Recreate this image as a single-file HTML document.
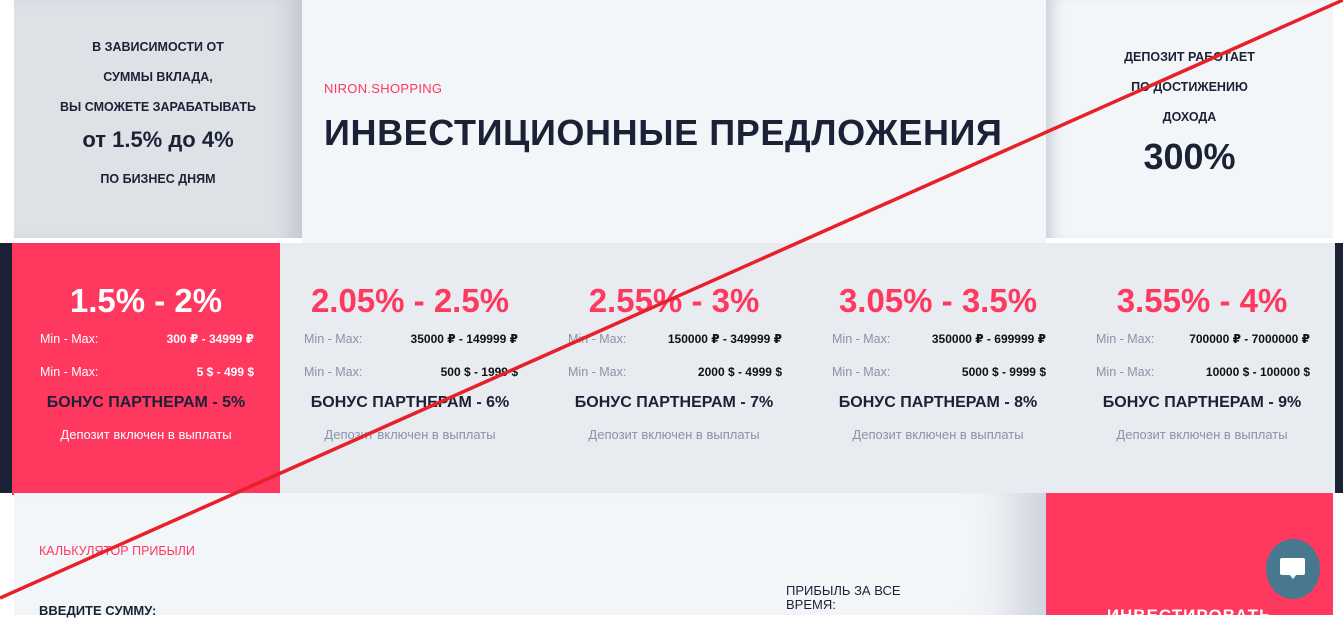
<!DOCTYPE html>
<html><head><meta charset="utf-8"><style>
*{margin:0;padding:0;box-sizing:border-box}
body{width:1343px;height:615px;overflow:hidden;background:#fff;font-family:"Liberation Sans","DejaVu Sans",sans-serif;color:#1b2236;position:relative}
.a{position:absolute}
.c{text-align:center}
.card{position:absolute;top:243px;height:250px;width:264px;text-align:center}
.card .p{position:absolute;top:39px;left:0;width:100%;font-size:33px;font-weight:bold;color:#ff3860}
.card .r{position:absolute;left:26px;width:214px;font-size:12.5px;text-align:left;height:16px}
.card .r span{position:absolute;right:0;top:0;font-weight:bold;color:#111;font-size:12px}
.card .r i{font-style:normal;color:#8a93a8}
.card .b{position:absolute;top:151px;width:100%;font-size:16px;font-weight:bold;color:#1b2236}
.card .d{position:absolute;top:184px;width:100%;font-size:13px;color:#8a93a8}
</style></head><body>
<div class="a" style="left:302px;top:0;width:744px;height:243px;background:#f3f6f9"></div>
<div class="a" style="left:1046px;top:0;width:287px;height:238px;background:#f3f6f9;box-shadow:inset 14px 0 14px -8px #c9ced8"></div>
<div class="a" style="left:14px;top:0;width:288px;height:238px;background:#dee2e7;box-shadow:inset -22px 0 20px -10px #c3c8d1"></div>
<div class="a c" style="left:14px;top:32px;width:288px;font-size:12.5px;font-weight:bold;line-height:30px">В ЗАВИСИМОСТИ ОТ<br>СУММЫ ВКЛАДА,<br>ВЫ СМОЖЕТЕ ЗАРАБАТЫВАТЬ</div>
<div class="a c" style="left:14px;top:127px;width:288px;font-size:22px;font-weight:bold">от 1.5% до 4%</div>
<div class="a c" style="left:14px;top:172px;width:288px;font-size:12.5px;font-weight:bold">ПО БИЗНЕС ДНЯМ</div>
<div class="a" style="left:324px;top:81px;font-size:13px;color:#ff3860;letter-spacing:.3px">NIRON.SHOPPING</div>
<div class="a" style="left:324px;top:112px;font-size:36px;font-weight:bold;letter-spacing:0.6px;color:#1b2236">ИНВЕСТИЦИОННЫЕ ПРЕДЛОЖЕНИЯ</div>
<div class="a c" style="left:1046px;top:42px;width:287px;font-size:12.5px;font-weight:bold;line-height:30px">ДЕПОЗИТ РАБОТАЕТ<br>ПО ДОСТИЖЕНИЮ<br>ДОХОДА</div>
<div class="a c" style="left:1046px;top:136px;width:287px;font-size:36px;font-weight:bold">300%</div>

<div class="a" style="left:0;top:243px;width:1343px;height:250px;background:#1b2236"></div>
<div class="a" style="left:280px;top:243px;width:1055px;height:250px;background:#e8ebf0"></div>
<div class="a" style="left:12px;top:243px;width:268px;height:252px;background:#ff3860"></div>

<div class="card" style="left:14px">
<div class="p" style="color:#fff">1.5% - 2%</div>
<div class="r" style="top:89px"><i style="color:#fff">Min - Max:</i><span style="color:#fff">300 ₽ - 34999 ₽</span></div>
<div class="r" style="top:122px"><i style="color:#fff">Min - Max:</i><span style="color:#fff">5 $ - 499 $</span></div>
<div class="b">БОНУС ПАРТНЕРАМ - 5%</div>
<div class="d" style="color:#fff">Депозит включен в выплаты</div>
</div>
<div class="card" style="left:278px">
<div class="p">2.05% - 2.5%</div>
<div class="r" style="top:89px"><i>Min - Max:</i><span>35000 ₽ - 149999 ₽</span></div>
<div class="r" style="top:122px"><i>Min - Max:</i><span>500 $ - 1999 $</span></div>
<div class="b">БОНУС ПАРТНЕРАМ - 6%</div>
<div class="d">Депозит включен в выплаты</div>
</div>
<div class="card" style="left:542px">
<div class="p">2.55% - 3%</div>
<div class="r" style="top:89px"><i>Min - Max:</i><span>150000 ₽ - 349999 ₽</span></div>
<div class="r" style="top:122px"><i>Min - Max:</i><span>2000 $ - 4999 $</span></div>
<div class="b">БОНУС ПАРТНЕРАМ - 7%</div>
<div class="d">Депозит включен в выплаты</div>
</div>
<div class="card" style="left:806px">
<div class="p">3.05% - 3.5%</div>
<div class="r" style="top:89px"><i>Min - Max:</i><span>350000 ₽ - 699999 ₽</span></div>
<div class="r" style="top:122px"><i>Min - Max:</i><span>5000 $ - 9999 $</span></div>
<div class="b">БОНУС ПАРТНЕРАМ - 8%</div>
<div class="d">Депозит включен в выплаты</div>
</div>
<div class="card" style="left:1070px">
<div class="p">3.55% - 4%</div>
<div class="r" style="top:89px"><i>Min - Max:</i><span>700000 ₽ - 7000000 ₽</span></div>
<div class="r" style="top:122px"><i>Min - Max:</i><span>10000 $ - 100000 $</span></div>
<div class="b">БОНУС ПАРТНЕРАМ - 9%</div>
<div class="d">Депозит включен в выплаты</div>
</div>

<div class="a" style="left:14px;top:493px;width:1032px;height:122px;background:#f3f6f9;box-shadow:inset -70px 0 50px -40px #cdd2db"></div>
<div class="a" style="left:1046px;top:493px;width:287px;height:122px;background:#ff3860"></div>
<div class="a" style="left:39px;top:544px;font-size:12.5px;color:#ff3860">КАЛЬКУЛЯТОР ПРИБЫЛИ</div>
<div class="a" style="left:39px;top:603px;font-size:13px;font-weight:bold">ВВЕДИТЕ СУММУ:</div>
<div class="a" style="left:786px;top:584px;font-size:13px;line-height:14px">ПРИБЫЛЬ ЗА ВСЕ<br>ВРЕМЯ:</div>
<div class="a c" style="left:1046px;top:606px;width:287px;font-size:17px;font-weight:bold;color:#fff;letter-spacing:1px">ИНВЕСТИРОВАТЬ</div>
<div class="a" style="left:1266px;top:539px;width:54px;height:60px;border-radius:50%;background:#46788f"></div>
<div class="a" style="left:1280px;top:558px;width:25px;height:17px;background:#fff;border-radius:2px"></div>
<div class="a" style="left:1289px;top:574px;width:0;height:0;border-left:4px solid transparent;border-right:4px solid transparent;border-top:5px solid #fff"></div>

<svg class="a" style="left:0;top:0" width="1343" height="615"><line x1="0" y1="598" x2="1343" y2="0" stroke="#e8202a" stroke-width="3.5"/></svg>
</body></html>
